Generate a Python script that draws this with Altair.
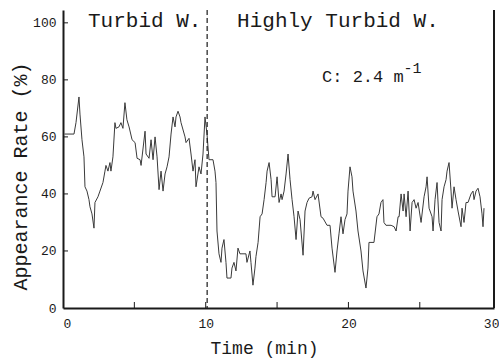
import altair as alt
import pandas as pd

# ---- data ----
times = [0.10, 0.77, 0.91, 1.12, 1.19, 1.33, 1.47, 1.54, 1.68, 1.82, 1.89, 2.03, 2.17, 2.24, 2.45, 2.59,
         2.80, 2.94, 3.01, 3.15, 3.29, 3.36, 3.50, 3.64, 3.71, 3.92, 4.06, 4.20, 4.34, 4.48, 4.63, 4.84,
         5.05, 5.19, 5.40, 5.47, 5.75, 5.82, 6.03, 6.17, 6.31, 6.45, 6.59, 6.73, 6.87, 7.01, 7.15, 7.29,
         7.43, 7.57, 7.71, 7.85, 7.92, 8.06, 8.20, 8.27, 8.55, 8.62, 8.83, 8.97, 9.11, 9.25, 9.32, 9.53,
         9.67, 9.81, 9.95, 10.09, 10.23, 10.51, 10.65, 10.72, 10.79, 10.93, 11.07, 11.14, 11.28, 11.42,
         11.49, 11.77, 11.84, 11.98, 12.12, 12.26, 12.40, 12.82, 12.89, 13.10, 13.17, 13.31, 13.45, 13.52,
         13.67, 13.81, 13.95, 14.09, 14.23, 14.30, 14.44, 14.58, 14.65, 14.86, 15.00, 15.14, 15.28, 15.35,
         15.49, 15.63, 15.77, 15.91, 16.05, 16.19, 16.33, 16.47, 16.61, 16.82, 16.96, 17.10, 17.24, 17.45,
         17.52, 17.66, 17.87, 18.08, 18.22, 18.50, 18.71, 18.85, 19.06, 19.20, 19.34, 19.48, 19.62, 19.76,
         19.90, 19.97, 20.11, 20.25, 20.32, 20.53, 20.67, 20.88, 21.02, 21.23, 21.37, 21.44, 21.58, 21.79,
         22.00, 22.14, 22.28, 22.42, 22.49, 22.63, 22.99, 23.20, 23.34, 23.48, 23.55, 23.69, 23.83, 23.90,
         24.04, 24.18, 24.32, 24.46, 24.60, 24.74, 24.88, 25.09, 25.30, 25.44, 25.51, 25.65, 25.86, 25.93,
         26.07, 26.21, 26.35, 26.49, 26.56, 26.70, 26.84, 26.91, 27.05, 27.19, 27.26, 27.40, 27.54, 27.68,
         27.89, 27.96, 28.10, 28.24, 28.38, 28.59, 28.73, 28.80, 28.94, 29.08, 29.22, 29.36, 29.43, 29.50]
rates = [61, 61, 65, 74, 68, 59, 53, 42.5, 41, 38, 35.5, 33, 28, 37, 39, 41,
         44, 48, 50, 48, 51, 48, 53, 65, 63, 63.5, 65, 63, 72, 66, 63.5, 59,
         58, 52.5, 52, 50, 62, 54, 52.5, 59, 52, 60, 53, 41.5, 48, 41, 47, 49.5,
         53, 61, 67, 63.5, 67, 69, 67, 65, 60, 58, 59.5, 54, 48, 52, 42.5, 49.5,
         47, 54, 67, 61, 52, 52, 48, 44, 27, 19, 16, 21, 24, 16,
         10.5, 10.5, 14, 16, 13, 21, 19, 19, 16, 20, 16, 8, 14, 18,
         23, 32, 33, 38, 44, 48, 51, 45, 39, 39, 46, 37, 40, 38,
         41, 47, 54, 45, 38, 32, 24, 34, 31, 18.5, 34, 37, 38.5, 39,
         41, 38, 40, 32, 31.5, 29, 29, 21, 12.5, 20, 26, 32, 26, 31,
         33, 41, 49.5, 46, 41, 34, 27, 20, 13, 7, 14, 23, 23, 23,
         32, 33, 37, 38, 30, 29, 29, 28.5, 27, 32, 32, 40, 34, 40,
         32, 41, 27, 37, 38, 35, 37, 30, 39, 42.5, 46, 35, 32, 27,
         38, 44, 30, 27, 38, 42.5, 45, 48, 51, 41, 35, 42.5, 38, 34,
         28.5, 35, 30, 37, 37, 40, 41, 38, 41, 42, 39, 33, 28.5, 35]

x_tick_labels = [0, 10, 20, 30]
y_tick_labels = [0, 20, 40, 60, 80, 100]
x_inner_ticks = [5, 10, 15, 20, 25]
y_inner_ticks = [20, 40, 60, 80, 100]
boundary_time = [10.1]
x_max = 30.2
y_max = 104.5

labels = ["Turbid W.", "Highly Turbid W."]
label_t = [1.75, 12.2]
label_v = [100.5, 100.5]

conc_text = ["C: 2.4 m"]
conc_t = [18.15]
conc_v = [81]
sup_text = ["-1"]
sup_t = [23.85]
sup_v = [84]

FONT = "Liberation Mono"
INK = "#1a1a1a"

df = pd.DataFrame({"t": times, "rate": rates})

xscale = alt.Scale(domain=[0, x_max], nice=False, zero=False)
yscale = alt.Scale(domain=[0, y_max], nice=False)

line = alt.Chart(df).mark_line(strokeWidth=1, color="#3a3a3a").encode(
    x=alt.X("t:Q", scale=xscale,
            axis=alt.Axis(values=x_tick_labels, ticks=False, labelFont=FONT, labelFontSize=13,
                          labelColor=INK, labelPadding=9, title="Time (min)", titleFont=FONT,
                          titleFontSize=18, titleFontWeight="normal", titleColor=INK,
                          titleX=201, titleY=40, titleBaseline="middle", titleAlign="center",
                          domainColor=INK, domainWidth=2, grid=False)),
    y=alt.Y("rate:Q", scale=yscale,
            axis=alt.Axis(values=y_tick_labels, ticks=False, labelFont=FONT, labelFontSize=13,
                          labelColor=INK, labelPadding=7, title="Appearance Rate (%)", titleFont=FONT,
                          titleFontSize=20, titleFontWeight="normal", titleColor=INK,
                          titleX=-43, titleY=166, titleBaseline="middle", titleAlign="center",
                          domainColor=INK, domainWidth=2, grid=False)),
)

dashed = alt.Chart(pd.DataFrame({"t": boundary_time})).mark_rule(
    strokeDash=[5, 3], strokeWidth=1.2, color=INK).encode(x=alt.X("t:Q", scale=xscale))

right_border = alt.Chart(pd.DataFrame({"t": [x_max]})).mark_rule(
    strokeWidth=2, color=INK).encode(x=alt.X("t:Q", scale=xscale))

xt = alt.Chart(pd.DataFrame({"t": x_inner_ticks})).mark_rule(strokeWidth=1, color=INK).encode(
    x=alt.X("t:Q", scale=xscale), y=alt.value(298), y2=alt.value(292))

yt = alt.Chart(pd.DataFrame({"v": y_inner_ticks})).mark_rule(strokeWidth=1, color=INK).encode(
    y=alt.Y("v:Q", scale=yscale), x=alt.value(0), x2=alt.value(5))

region_text = alt.Chart(pd.DataFrame({"t": label_t, "v": label_v, "s": labels})).mark_text(
    font=FONT, fontSize=21, align="left", baseline="middle", color=INK).encode(
    x=alt.X("t:Q", scale=xscale), y=alt.Y("v:Q", scale=yscale), text="s:N")

conc = alt.Chart(pd.DataFrame({"t": conc_t, "v": conc_v, "s": conc_text})).mark_text(
    font=FONT, fontSize=17, align="left", baseline="middle", color=INK).encode(
    x=alt.X("t:Q", scale=xscale), y=alt.Y("v:Q", scale=yscale), text="s:N")

sup = alt.Chart(pd.DataFrame({"t": sup_t, "v": sup_v, "s": sup_text})).mark_text(
    font=FONT, fontSize=15, align="left", baseline="middle", color=INK).encode(
    x=alt.X("t:Q", scale=xscale), y=alt.Y("v:Q", scale=yscale), text="s:N")

chart = alt.layer(line, dashed, right_border, xt, yt, region_text, conc, sup).properties(
    width=431, height=298,
    autosize=alt.AutoSizeParams(type="none"),
    padding={"left": 63, "top": 10, "right": 5, "bottom": 56},
    background="white",
).configure_view(stroke=None)

chart.save("out.html", embed_options={"renderer": "svg", "actions": False})
